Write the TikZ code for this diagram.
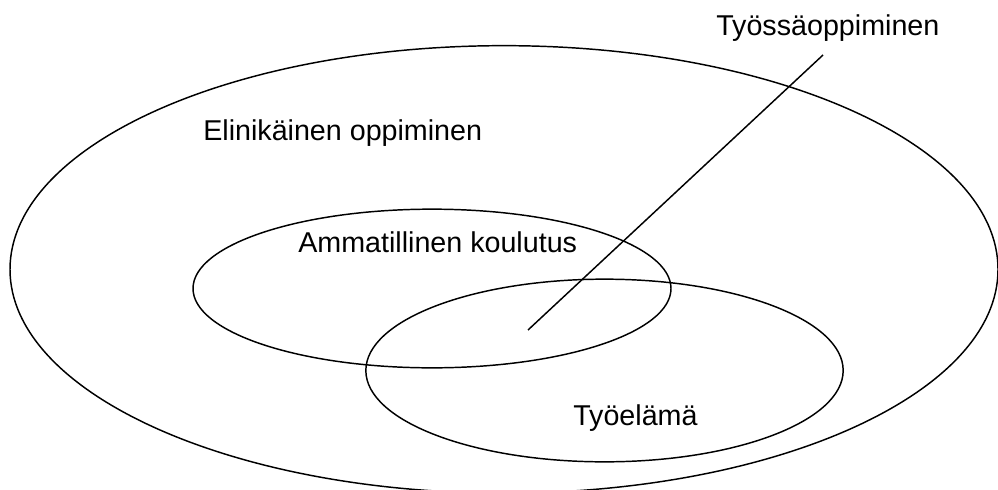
\documentclass[tikz,border=0pt]{standalone}
\usepackage{fontspec}
\setmainfont{Liberation Sans}
\usetikzlibrary{shapes.geometric}

\begin{document}
\begin{tikzpicture}[
    x=0.75pt, y=-0.75pt,
    area/.style={ellipse, draw=black, line width=1.1pt, inner sep=0pt},
    label/.style={font=\fontsize{21.5}{25}\selectfont, anchor=base west, inner sep=0pt},
    pointer/.style={line width=1.1pt}
]
\useasboundingbox (0,0) rectangle (998,489);

% Ellipses
\node[area, minimum width=741pt, minimum height=335.6pt] (elini) at (504,269.4) {};
\node[area, minimum width=358.5pt, minimum height=119pt] (ammat) at (432,288.5) {};
\node[area, minimum width=358pt, minimum height=137pt] (tyoel) at (604.5,370.5) {};

% Labels
\node[label] (elinitxt) at (203,140) {Elinikäinen oppiminen};
\node[label] (ammattxt) at (298,252) {Ammatillinen koulutus};
\node[label] (tyoeltxt) at (573,425) {Työelämä};
\node[label] (tyossatxt) at (716,35) {Työssäoppiminen};

% Pointer
\coordinate (tail) at (823,55);
\coordinate (tip) at (528,330);
\draw[pointer] (tail) -- (tip);

\end{tikzpicture}
\end{document}
